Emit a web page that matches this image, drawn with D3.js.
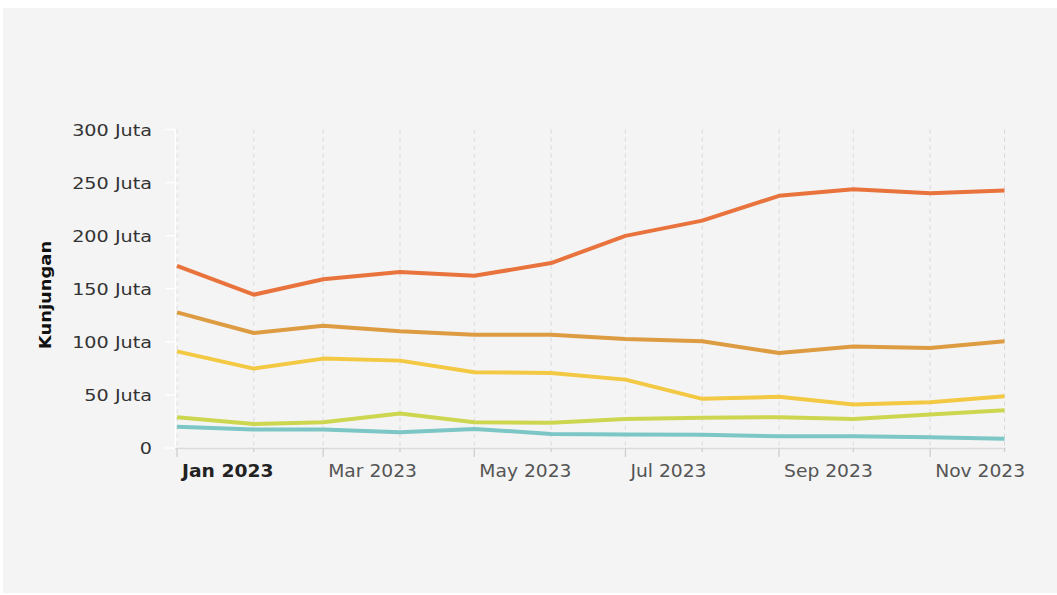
<!DOCTYPE html>
<html>
<head>
<meta charset="utf-8">
<script src="https://cdn.jsdelivr.net/npm/d3@7"></script>
<style>
  html, body { margin: 0; padding: 0; background: #ffffff; }
  svg { display: block; }
</style>
</head>
<body>
<script>
// Monthly visits, 2023 (Juta = million)
const months = ["2023-01", "2023-02", "2023-03", "2023-04", "2023-05", "2023-06",
                "2023-07", "2023-08", "2023-09", "2023-10", "2023-11", "2023-12"];
const seriesA = [171.6, 144.4, 159, 165.7, 162.2, 174.2, 199.8, 214.2, 237.5, 243.8, 240, 242.5];
const seriesB = [127.7, 108.3, 115.2, 109.9, 106.7, 106.7, 102.7, 100.5, 89.5, 95.7, 94.2, 100.5];
const seriesC = [91, 74.8, 84.2, 82.3, 71.3, 70.7, 64.4, 46.3, 48.2, 40.9, 43.1, 48.7];
const seriesD = [29, 22.7, 24.3, 32.4, 24.3, 23.7, 27.4, 28.4, 29, 27.4, 31.5, 35.6];
const seriesE = [19.9, 17.4, 17.4, 14.9, 18, 13.3, 12.7, 12.4, 11.1, 11.1, 10.2, 8.7];
const yTicks = [0, 50, 100, 150, 200, 250, 300];
const xLabelMonths = ["2023-01", "2023-03", "2023-05", "2023-07", "2023-09", "2023-11"];

const width = 1057;
const height = 595;
const font = "'DejaVu Sans', Verdana, sans-serif";

const colors = {
  panel: "#f4f4f4",
  grid: "#d9d9d9",
  axis: "#dcdcdc",
  tick: "#cccccc",
  text: "#333333",
  muted: "#555555",
};

const series = [
  { key: "e", values: seriesE, color: "#7cc6c5" },
  { key: "d", values: seriesD, color: "#cdd64f" },
  { key: "c", values: seriesC, color: "#f3c843" },
  { key: "b", values: seriesB, color: "#dd9c42" },
  { key: "a", values: seriesA, color: "#e9733d" },
];

const parseMonth = d3.timeParse("%Y-%m");
const dates = months.map(parseMonth);

const svg = d3.select("body")
  .append("svg")
  .attr("width", width)
  .attr("height", height)
  .attr("viewBox", `0 0 ${width} ${height}`);

svg.append("rect")
  .attr("x", 3)
  .attr("y", 8)
  .attr("width", width - 3)
  .attr("height", height - 10)
  .attr("fill", colors.panel);

const x = d3.scaleTime()
  .domain([dates[0], dates[dates.length - 1]])
  .range([177, 1004.5]);

const y = d3.scaleLinear()
  .domain([0, 300])
  .range([448, 129.5]);

// vertical dashed grid at every month
svg.append("g")
  .selectAll("line")
  .data(dates)
  .join("line")
  .attr("x1", (d) => x(d))
  .attr("x2", (d) => x(d))
  .attr("y1", y(300))
  .attr("y2", y(0))
  .attr("stroke", colors.grid)
  .attr("stroke-width", 1)
  .attr("stroke-dasharray", "4,4");

// y axis line and ticks (white)
svg.append("line")
  .attr("x1", 175.5).attr("x2", 175.5)
  .attr("y1", y(300)).attr("y2", y(0))
  .attr("stroke", "#ffffff")
  .attr("stroke-width", 1.5);

svg.append("g")
  .selectAll("line")
  .data(yTicks)
  .join("line")
  .attr("x1", 165)
  .attr("x2", 175)
  .attr("y1", (d) => y(d))
  .attr("y2", (d) => y(d))
  .attr("stroke", "#ffffff")
  .attr("stroke-width", 1.5);

svg.append("g")
  .selectAll("text")
  .data(yTicks)
  .join("text")
  .attr("transform", (d) => `translate(152, ${y(d) + 6}) scale(1.28, 1)`)
  .attr("text-anchor", "end")
  .attr("fill", colors.text)
  .attr("font-family", font)
  .attr("font-size", 15)
  .text((d) => (d === 0 ? "0" : `${d} Juta`));

// x axis line
svg.append("line")
  .attr("x1", 175)
  .attr("x2", 1006)
  .attr("y1", 448.5)
  .attr("y2", 448.5)
  .attr("stroke", colors.axis)
  .attr("stroke-width", 1.5);

const labelSet = new Set(xLabelMonths);

svg.append("g")
  .selectAll("line")
  .data(months)
  .join("line")
  .attr("x1", (d) => x(parseMonth(d)))
  .attr("x2", (d) => x(parseMonth(d)))
  .attr("y1", 448.5)
  .attr("y2", (d) => (labelSet.has(d) ? 457 : 452))
  .attr("stroke", colors.tick)
  .attr("stroke-width", 1.2);

const fmt = d3.timeFormat("%b %Y");

svg.append("g")
  .selectAll("text")
  .data(xLabelMonths)
  .join("text")
  .attr("transform", (d) => `translate(${x(parseMonth(d)) + 5}, 477) scale(1.1, 1)`)
  .attr("fill", (d, i) => (i === 0 ? "#222222" : colors.muted))
  .attr("font-family", font)
  .attr("font-size", 17)
  .attr("font-weight", (d, i) => (i === 0 ? 700 : 400))
  .text((d) => fmt(parseMonth(d)));

// y axis title
svg.append("text")
  .attr("transform", "translate(51, 295) rotate(-90) scale(1.12, 1)")
  .attr("text-anchor", "middle")
  .attr("fill", "#111111")
  .attr("font-family", font)
  .attr("font-size", 16)
  .attr("font-weight", 700)
  .text("Kunjungan");

const line = d3.line()
  .x((d, i) => x(dates[i]))
  .y((d) => y(d));

svg.append("g")
  .selectAll("path")
  .data(series)
  .join("path")
  .attr("d", (d) => line(d.values))
  .attr("fill", "none")
  .attr("stroke", (d) => d.color)
  .attr("stroke-width", 4)
  .attr("stroke-linejoin", "round")
  .attr("stroke-linecap", "butt");
</script>
</body>
</html>
